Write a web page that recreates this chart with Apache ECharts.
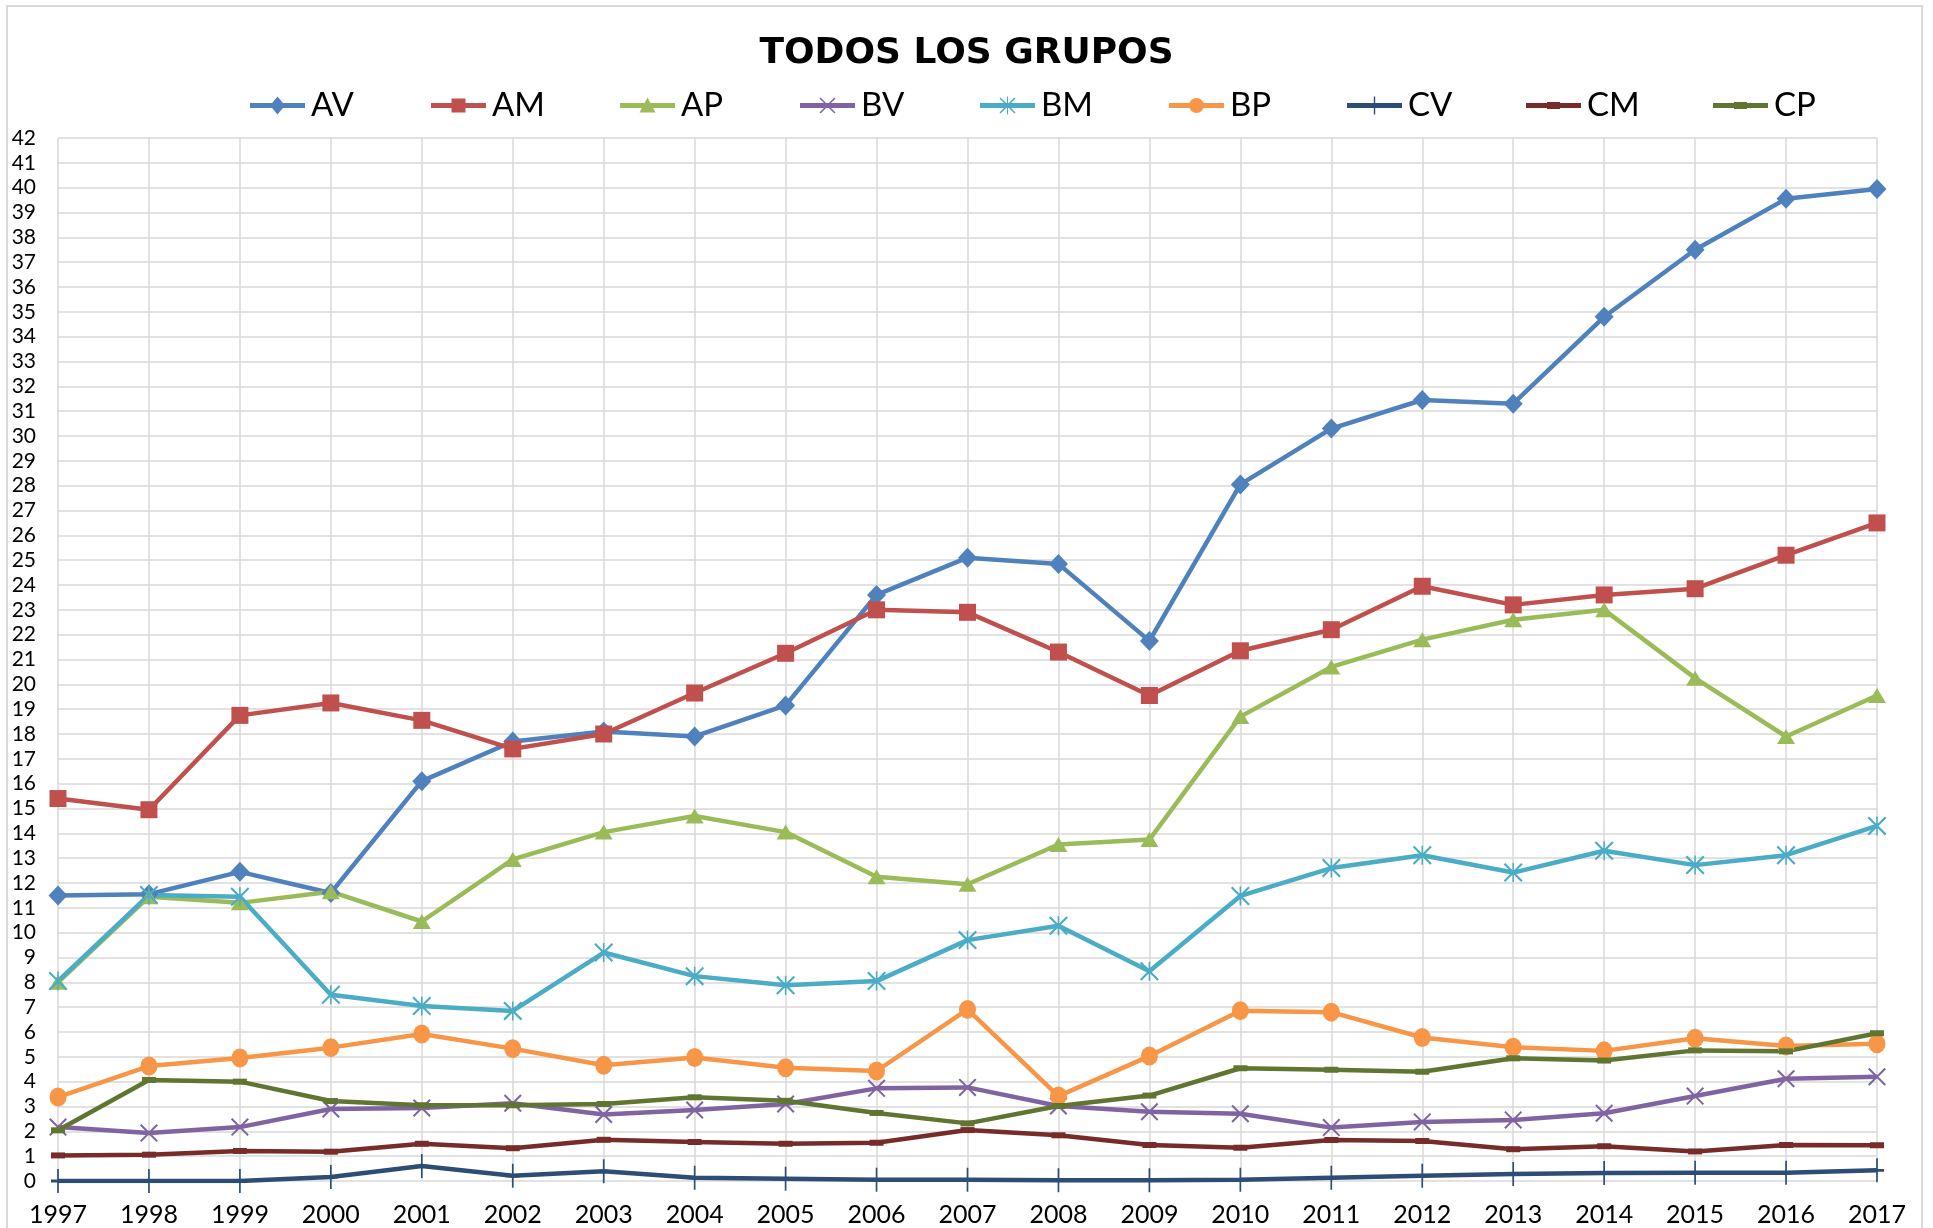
<!DOCTYPE html>
<html>
<head>
<meta charset="utf-8">
<script src="https://cdn.jsdelivr.net/npm/echarts@6/dist/echarts.min.js"></script>
<style>
html,body{margin:0;padding:0;background:#fff;}
#chart{width:1933px;height:1228px;}
</style>
</head>
<body>
<div id="chart"></div>
<script>
const years = ['1997','1998','1999','2000','2001','2002','2003','2004','2005','2006','2007','2008','2009','2010','2011','2012','2013','2014','2015','2016','2017'];
const seriesNames = ['AV','AM','AP','BV','BM','BP','CV','CM','CP'];
const AV = [11.5,11.55,12.45,11.6,16.1,17.7,18.1,17.9,19.15,23.6,25.1,24.85,21.75,28.05,30.3,31.45,31.3,34.8,37.5,39.55,39.95];
const AM = [15.4,14.95,18.75,19.25,18.55,17.4,18.0,19.65,21.25,23.0,22.9,21.3,19.55,21.35,22.2,23.95,23.2,23.6,23.85,25.2,26.5];
const AP = [8.0,11.45,11.2,11.65,10.45,12.95,14.05,14.7,14.05,12.25,11.95,13.55,13.75,18.7,20.7,21.8,22.6,23.0,20.25,17.9,19.55];
const BV = [2.17,1.93,2.17,2.9,2.94,3.13,2.68,2.86,3.1,3.73,3.77,3.02,2.79,2.71,2.15,2.38,2.46,2.73,3.42,4.12,4.2];
const BM = [8.05,11.52,11.45,7.5,7.05,6.85,9.2,8.25,7.88,8.05,9.7,10.28,8.45,11.48,12.6,13.12,12.42,13.3,12.72,13.12,14.3];
const BP = [3.38,4.63,4.95,5.37,5.92,5.33,4.66,4.97,4.56,4.43,6.91,3.42,5.03,6.86,6.8,5.78,5.39,5.24,5.75,5.44,5.53];
const CV = [0.0,0.0,0.0,0.16,0.6,0.21,0.39,0.13,0.09,0.05,0.05,0.03,0.03,0.05,0.13,0.21,0.28,0.32,0.33,0.33,0.43];
const CM = [1.03,1.06,1.21,1.18,1.5,1.32,1.66,1.57,1.5,1.54,2.05,1.84,1.45,1.34,1.65,1.61,1.28,1.4,1.19,1.45,1.44];
const CP = [2.04,4.07,4.0,3.22,3.05,3.05,3.1,3.37,3.23,2.74,2.32,3.02,3.44,4.54,4.48,4.4,4.94,4.85,5.26,5.22,5.95];
const seriesData = [AV,AM,AP,BV,BM,BP,CV,CM,CP];

const colors = ['#4F81BD','#C0504D','#9BBB59','#8064A2','#4BACC6','#F79646','#2C4D75','#772C2A','#5F7530'];

// chart marker shapes
const SYM_X = 'path://M0,0.8L0.8,0L10,9.2L9.2,10Z M9.2,0L10,0.8L0.8,10L0,9.2Z';
const SYM_STAR = 'path://M0,0.8L0.8,0L10,9.2L9.2,10Z M9.2,0L10,0.8L0.8,10L0,9.2Z M4.6,0L5.4,0L5.4,10L4.6,10Z';
const SYM_PLUS = 'path://M4.4,0L5.6,0L5.6,10L4.4,10Z M0,4.4L10,4.4L10,5.6L0,5.6Z';
const symbols = ['diamond','rect','triangle',SYM_X,SYM_STAR,'circle',SYM_PLUS,'rect','rect'];
const symbolSizes = [[19,20],17,[18,15],18,19,[17,19],[14,24],[14,6],[14,6]];

// legend icons: line segment + marker, drawn in a 55 x 18 box
const LINE = 'M0,0L0,0Z M55,18L55,18Z M0,6.5L55,6.5L55,11.5L0,11.5Z ';
const legendIcons = [
  'path://' + LINE + 'M27.5,0L35,9L27.5,18L20,9Z',
  'path://' + LINE + 'M20.5,2L34.5,2L34.5,16L20.5,16Z',
  'path://' + LINE + 'M27.5,1L35.5,16L19.5,16Z',
  'path://' + LINE + 'M19.5,2.1L20.6,1L35.5,15.9L34.4,17Z M34.4,1L35.5,2.1L20.6,17L19.5,15.9Z',
  'path://' + LINE + 'M19.5,2.1L20.6,1L35.5,15.9L34.4,17Z M34.4,1L35.5,2.1L20.6,17L19.5,15.9Z M27,0L28,0L28,18L27,18Z',
  'path://' + LINE + 'M20,9A7.5,7.5,0,1,1,35,9A7.5,7.5,0,1,1,20,9Z',
  'path://' + LINE + 'M26.8,0L28.2,0L28.2,18L26.8,18Z',
  'path://' + LINE + 'M21,5.5L34,5.5L34,12.5L21,12.5Z',
  'path://' + LINE + 'M21,5.5L34,5.5L34,12.5L21,12.5Z'
];
const legendLeft = [245,426,615,795,975,1164,1342,1521,1708];

const FONT = 'Lato, "Open Sans", sans-serif';
const chart = echarts.init(document.getElementById('chart'), null, {renderer:'canvas'});

const legends = seriesNames.map((n,i)=>({
  data:[{name:n, icon:legendIcons[i]}], left: legendLeft[i], top: 84,
  itemWidth: 55, itemHeight: 18, itemGap: 0, symbolKeepAspect:false,
  textStyle:{fontFamily:FONT, fontSize:33, color:'#000', padding:[0,0,0,1]}
}));

const series = seriesNames.map((n,i)=>({
  name:n, type:'line', data:seriesData[i],
  symbol:symbols[i], symbolSize:symbolSizes[i], showAllSymbol:true,
  lineStyle:{width:4.5, color:colors[i]},
  itemStyle:{color:colors[i], borderWidth:0},
  emphasis:{disabled:true}, animation:false
}));

chart.setOption({
  animation:false,
  backgroundColor:'#fff',
  title:{text:'TODOS LOS GRUPOS', left:'center', top:31,
    textStyle:{fontFamily:'"DejaVu Sans", sans-serif', fontWeight:'bold', fontSize:36, color:'#000'}},
  legend: legends,
  grid:{left:58, right:56, top:138, bottom:47, containLabel:false},
  xAxis:{type:'category', data:years, boundaryGap:false,
    axisLine:{show:false}, axisTick:{show:false},
    axisLabel:{interval:0, fontFamily:FONT, fontSize:25, color:'#000', margin:21},
    splitLine:{show:true, interval:0, lineStyle:{color:'#D9D9D9', width:1.5}}},
  yAxis:{type:'value', min:0, max:42, interval:1,
    axisLine:{show:false}, axisTick:{show:false},
    axisLabel:{fontFamily:FONT, fontSize:21, color:'#000', margin:22},
    splitLine:{show:true, lineStyle:{color:'#D9D9D9', width:1.5}}},
  graphic:[{type:'rect', shape:{x:7,y:6,width:1915,height:1240}, style:{fill:'none', stroke:'#D9D9D9', lineWidth:2}, silent:true, z:-10}],
  series: series
});
</script>
</body>
</html>
